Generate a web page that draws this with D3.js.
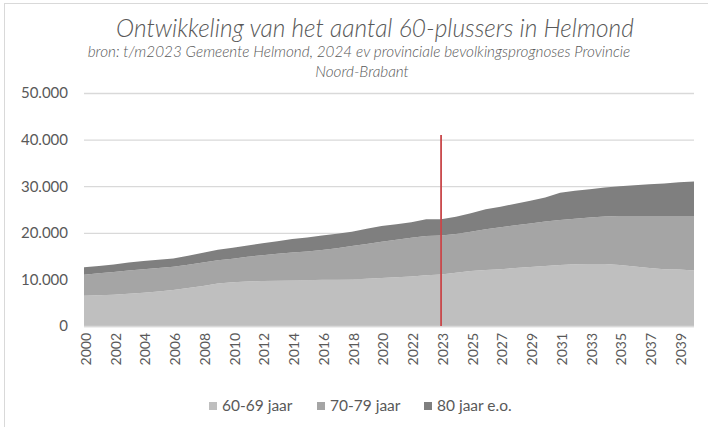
<!DOCTYPE html>
<html>
<head>
<meta charset="utf-8">
<script src="https://cdn.jsdelivr.net/npm/d3@7"></script>
<style>
  body { margin: 0; background: #fff; }
  #chart { width: 708px; height: 427px; }
  text { font-family: Lato, "Open Sans", sans-serif; fill: #595959; }
</style>
</head>
<body>
<div id="chart"></div>
<script>
// years on the category axis, 2023 appears twice (observed + prognosis)
const years = ['2000','2001','2002','2003','2004','2005','2006','2007','2008','2009',
  '2010','2011','2012','2013','2014','2015','2016','2017','2018','2019','2020','2021',
  '2022','2023','2023','2024','2025','2026','2027','2028','2029','2030','2031','2032',
  '2033','2034','2035','2036','2037','2038','2039','2040'];

const age60_69 = [6500,6600,6700,6900,7150,7400,7700,8150,8600,9100,9400,9550,9650,9700,
  9750,9800,9900,9950,10000,10150,10300,10450,10600,10900,11050,11450,11800,12000,12200,
  12450,12650,12900,13100,13250,13300,13300,13100,12750,12450,12200,12100,11900];
const age70_79 = [4500,4700,4900,5000,5050,5050,5000,5000,5000,5000,5050,5300,5550,5800,
  6000,6200,6400,6750,7150,7450,7800,8050,8350,8400,8350,8300,8450,8750,9000,9150,9350,
  9500,9650,9750,10000,10200,10500,10850,11150,11400,11500,11700];
const age80plus = [1600,1600,1600,1700,1750,1750,1800,1950,2100,2250,2350,2450,2550,2700,
  2900,3000,3100,3100,3100,3250,3350,3350,3300,3600,3500,3700,3950,4300,4400,4650,4900,
  5200,5850,6000,6050,6200,6400,6600,6800,7000,7250,7400];

const seriesNames = ['60-69 jaar', '70-79 jaar', '80 jaar e.o.'];
const yTicks = [0, 10000, 20000, 30000, 40000, 50000];
const markerIndex = 24;     // start prognose 2023
const markerTop = 41000;

const colors = ['#bfbfbf', '#a5a5a5', '#7f7f7f'];

const width = 708, height = 427;
const margin = { top: 93, right: 14, bottom: 101, left: 84 };

const svg = d3.select('#chart')
    .append('svg')
    .attr('width', width)
    .attr('height', height);

// chart border (top / left visible)
svg.append('line').attr('x1', 4).attr('x2', width).attr('y1', 3.5).attr('y2', 3.5)
    .attr('stroke', '#d9d9d9');
svg.append('line').attr('x1', 4.5).attr('x2', 4.5).attr('y1', 3).attr('y2', height)
    .attr('stroke', '#d9d9d9');

// titles
svg.append('text')
    .attr('x', 375).attr('y', 37)
    .attr('text-anchor', 'middle')
    .style('font-size', '24.5px')
    .style('font-style', 'italic')
    .style('font-weight', 300)
    .text('Ontwikkeling van het aantal 60-plussers in Helmond');
svg.append('text')
    .attr('x', 359).attr('y', 57)
    .attr('text-anchor', 'middle')
    .style('font-size', '15.3px')
    .style('font-style', 'italic')
    .style('font-weight', 300)
    .text('bron: t/m2023 Gemeente Helmond, 2024 ev provinciale bevolkingsprognoses Provincie');
svg.append('text')
    .attr('x', 362).attr('y', 77)
    .attr('text-anchor', 'middle')
    .style('font-size', '15.3px')
    .style('font-style', 'italic')
    .style('font-weight', 300)
    .text('Noord-Brabant');

const xScale = d3.scaleLinear()
    .domain([0, years.length - 1])
    .range([margin.left, width - margin.right]);
const yScale = d3.scaleLinear()
    .domain([0, 50000])
    .range([height - margin.bottom, margin.top]);

const rows = years.map((y, i) => ({ i: i, a: age60_69[i], b: age70_79[i], c: age80plus[i] }));
const stacked = d3.stack().keys(['a', 'b', 'c'])(rows);

// grid
svg.append('g')
    .attr('class', 'grid')
    .attr('transform', `translate(${margin.left},0)`)
    .call(d3.axisLeft(yScale).tickValues(yTicks).tickSize(-(xScale.range()[1] - margin.left)).tickFormat(''))
    .call(g => g.select('.domain').remove())
    .call(g => g.selectAll('line').attr('stroke', '#d9d9d9').attr('stroke-width', 1.3));

const area = d3.area()
    .x(d => xScale(d.data.i))
    .y0(d => yScale(d[0]))
    .y1(d => yScale(d[1]));

svg.append('g')
    .selectAll('path')
    .data(stacked)
    .join('path')
    .attr('fill', (d, i) => colors[i])
    .attr('d', area);

// bottom axis line
svg.append('line')
    .attr('x1', xScale.range()[0]).attr('x2', xScale.range()[1])
    .attr('y1', yScale(0) + 0.5).attr('y2', yScale(0) + 0.5)
    .attr('stroke', '#d9d9d9').attr('stroke-width', 1.3);

// red marker line
svg.append('line')
    .attr('x1', xScale(markerIndex)).attr('x2', xScale(markerIndex))
    .attr('y1', yScale(markerTop)).attr('y2', yScale(0))
    .attr('stroke', '#c9474a')
    .attr('stroke-width', 1.8);

// y axis
svg.append('g')
    .attr('transform', `translate(${margin.left},0)`)
    .call(d3.axisLeft(yScale).tickValues(yTicks).tickSize(0).tickPadding(16)
        .tickFormat(d => d === 0 ? '0' : d3.format(',')(d).replace(/,/g, '.')))
    .call(g => g.select('.domain').remove())
    .selectAll('text')
    .style('font-size', '15px');

// x axis
const xTicks = d3.range(0, years.length, 2);
svg.append('g')
    .attr('transform', `translate(0,${yScale(0)})`)
    .call(d3.axisBottom(xScale).tickValues(xTicks).tickSize(0).tickFormat(i => years[i]))
    .call(g => g.select('.domain').remove())
    .selectAll('text')
    .style('font-size', '14px')
    .attr('transform', 'rotate(-90)')
    .attr('text-anchor', 'end')
    .attr('x', -7)
    .attr('y', 0)
    .attr('dy', '0.45em');

// legend
const legendX = [209, 317, 424];
const legend = svg.append('g')
    .selectAll('g')
    .data(seriesNames)
    .join('g')
    .attr('transform', (d, i) => `translate(${legendX[i]},406)`);
legend.append('rect')
    .attr('x', 0).attr('y', -4)
    .attr('width', 8).attr('height', 8)
    .attr('fill', (d, i) => colors[i]);
legend.append('text')
    .attr('x', 13).attr('y', 0)
    .attr('dy', '0.35em')
    .style('font-size', '15.5px')
    .text(d => d);
</script>
</body>
</html>
